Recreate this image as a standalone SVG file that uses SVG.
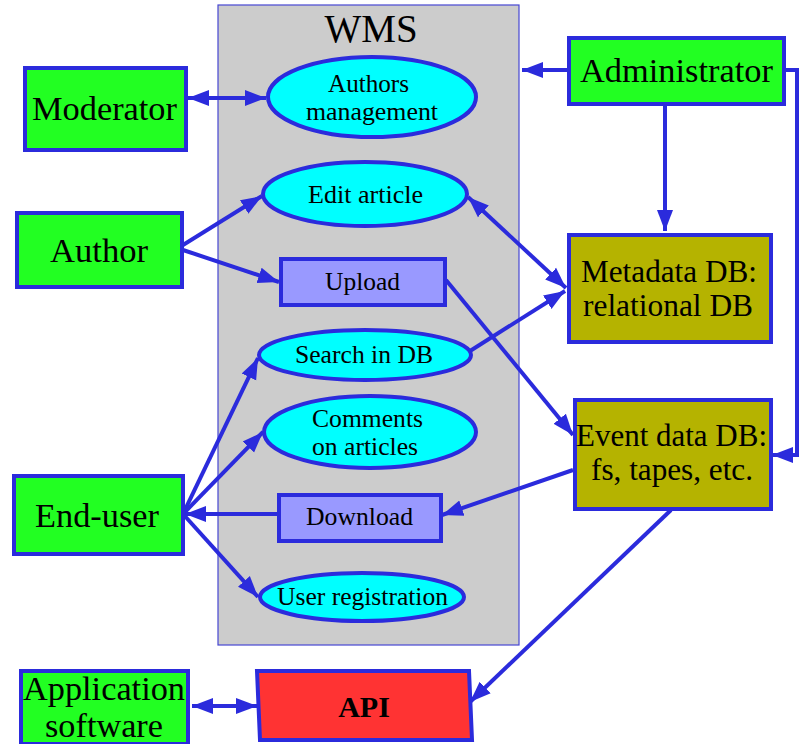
<svg xmlns="http://www.w3.org/2000/svg" width="799" height="744" viewBox="0 0 799 744">
<style>
.box{stroke:#2b2bdc;stroke-width:4}
.actor{fill:#22ff22}
.uc{fill:#00ffff}
.proc{fill:#9999ff}
.db{fill:#b5b300}
.api{fill:#ff3333}
text{font-family:"Liberation Serif","Times New Roman","DejaVu Serif",serif;fill:#000;text-anchor:middle}
.conn line,.conn polyline{stroke:#2b2bdc;stroke-width:4;fill:none}
</style>
<defs>
<marker id="ah" markerUnits="userSpaceOnUse" markerWidth="22" markerHeight="18" viewBox="0 0 22 18" refX="21" refY="9" orient="auto-start-reverse">
<path d="M0,1 L21,9 L0,17 z" fill="#2b2bdc"/>
</marker>
</defs>
<rect width="799" height="744" fill="#fff"/>
<g id="wms">
<rect x="218" y="5" width="301" height="640" fill="#cccccc" stroke="#4646d2" stroke-width="1.2"/>
<text x="371" y="42" font-size="39">WMS</text>
</g>
<g class="conn">
<line x1="188" y1="98" x2="266" y2="98" marker-start="url(#ah)" marker-end="url(#ah)"/>
<line x1="183" y1="245" x2="262" y2="196" marker-end="url(#ah)"/>
<line x1="183" y1="250" x2="279" y2="282" marker-end="url(#ah)"/>
<line x1="468" y1="197" x2="566" y2="288" marker-start="url(#ah)" marker-end="url(#ah)"/>
<line x1="470" y1="351" x2="565" y2="291" marker-end="url(#ah)"/>
<line x1="446" y1="280" x2="573" y2="435" marker-end="url(#ah)"/>
<line x1="573" y1="470" x2="442" y2="515" marker-end="url(#ah)"/>
<line x1="671" y1="510" x2="470" y2="702" marker-end="url(#ah)"/>
<line x1="567" y1="70" x2="522" y2="70" marker-end="url(#ah)"/>
<line x1="665" y1="105" x2="665" y2="231" marker-end="url(#ah)"/>
<polyline points="785,70 797,70 797,455 772,455" marker-end="url(#ah)"/>
<line x1="183" y1="514" x2="258" y2="358" marker-end="url(#ah)"/>
<line x1="183" y1="514" x2="263" y2="432" marker-end="url(#ah)"/>
<line x1="277" y1="514" x2="185" y2="514" marker-end="url(#ah)"/>
<line x1="183" y1="514" x2="258" y2="597" marker-end="url(#ah)"/>
<line x1="192" y1="706" x2="257" y2="706" marker-start="url(#ah)" marker-end="url(#ah)"/>
</g>
<g id="moderator">
<rect class="box actor" x="25" y="68" width="161" height="82"/>
<text font-size="34" x="104.5" y="120" textLength="145" lengthAdjust="spacingAndGlyphs">Moderator</text>
</g>
<g id="author">
<rect class="box actor" x="17" y="213" width="165" height="74"/>
<text font-size="34" x="99" y="262" textLength="98" lengthAdjust="spacingAndGlyphs">Author</text>
</g>
<g id="enduser">
<rect class="box actor" x="14" y="476" width="169" height="78"/>
<text font-size="34" x="97" y="527" textLength="124" lengthAdjust="spacingAndGlyphs">End-user</text>
</g>
<g id="appsoftware">
<rect class="box actor" x="21" y="671" width="167" height="73"/>
<text font-size="34" x="104" y="700" textLength="162" lengthAdjust="spacingAndGlyphs">Application</text>
<text font-size="34" x="104" y="737" textLength="118" lengthAdjust="spacingAndGlyphs">software</text>
</g>
<g id="administrator">
<rect class="box actor" x="569" y="38" width="215" height="66"/>
<text font-size="34" x="676.5" y="82" textLength="193" lengthAdjust="spacingAndGlyphs">Administrator</text>
</g>
<g id="authorsmgmt">
<ellipse class="box uc" cx="372" cy="97" rx="104" ry="40"/>
<text font-size="25" x="368.5" y="92" textLength="81" lengthAdjust="spacingAndGlyphs">Authors</text>
<text font-size="25" x="372" y="120" textLength="132" lengthAdjust="spacingAndGlyphs">management</text>
</g>
<g id="editarticle">
<ellipse class="box uc" cx="365" cy="194" rx="102" ry="32"/>
<text font-size="25" x="365.5" y="203" textLength="115" lengthAdjust="spacingAndGlyphs">Edit article</text>
</g>
<g id="upload">
<rect class="box proc" x="281" y="259" width="164" height="46"/>
<text font-size="25" x="362.5" y="290" textLength="75" lengthAdjust="spacingAndGlyphs">Upload</text>
</g>
<g id="searchdb">
<ellipse class="box uc" cx="365" cy="355" rx="106" ry="25"/>
<text font-size="25" x="364" y="363" textLength="138" lengthAdjust="spacingAndGlyphs">Search in DB</text>
</g>
<g id="comments">
<ellipse class="box uc" cx="370" cy="432" rx="106" ry="36"/>
<text font-size="25" x="367.5" y="427" textLength="111" lengthAdjust="spacingAndGlyphs">Comments</text>
<text font-size="25" x="365" y="455" textLength="106" lengthAdjust="spacingAndGlyphs">on articles</text>
</g>
<g id="download">
<rect class="box proc" x="279" y="495" width="162" height="46"/>
<text font-size="25" x="359.5" y="525" textLength="107" lengthAdjust="spacingAndGlyphs">Download</text>
</g>
<g id="userreg">
<ellipse class="box uc" cx="362" cy="597" rx="102" ry="24"/>
<text font-size="25" x="362.5" y="605" textLength="171" lengthAdjust="spacingAndGlyphs">User registration</text>
</g>
<g id="metadatadb">
<rect class="box db" x="569" y="235" width="202" height="107"/>
<text font-size="31" x="669" y="282" textLength="176" lengthAdjust="spacingAndGlyphs">Metadata DB:</text>
<text font-size="31" x="668" y="316" textLength="170" lengthAdjust="spacingAndGlyphs">relational DB</text>
</g>
<g id="eventdb">
<rect class="box db" x="575" y="400" width="196" height="109"/>
<text font-size="31" x="671.5" y="446" textLength="191" lengthAdjust="spacingAndGlyphs">Event data DB:</text>
<text font-size="31" x="672" y="480" textLength="162" lengthAdjust="spacingAndGlyphs">fs, tapes, etc.</text>
</g>
<g id="api">
<polygon class="box api" points="257,671 469,671 472,740 260,740"/>
<text x="364" y="717" font-size="30" font-weight="bold">API</text>
</g>
</svg>
